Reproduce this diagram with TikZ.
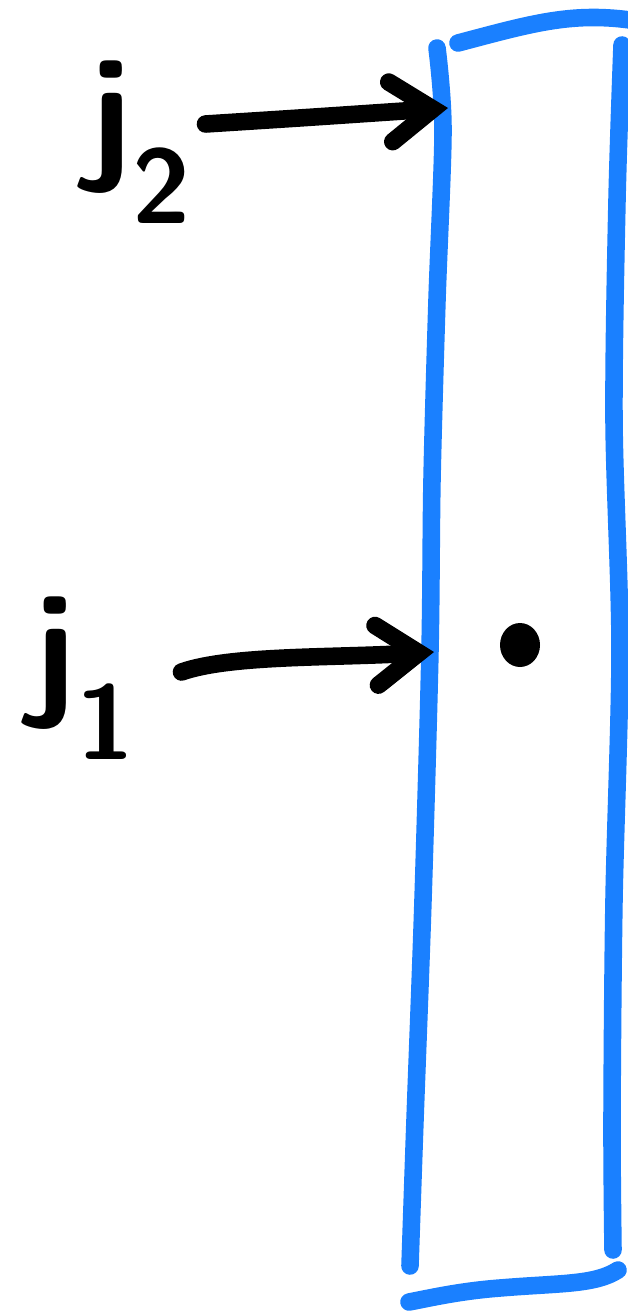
\documentclass[tikz,border=0pt]{standalone}
\usepackage{tikz}
\usepackage{xcolor}
\usetikzlibrary{arrows.meta,shapes.geometric}
\definecolor{boxblue}{HTML}{1A80FF}
\tikzset{
  edge/.style   ={draw=boxblue, line width=10pt, line cap=round, line join=round},
  pointer/.style={draw=black, line width=10pt, line cap=round, line join=round,
                  -{Straight Barb[length=24pt, width=34pt, line cap=round]}},
  jlabel/.style ={font=\fontsize{86}{86}\selectfont\sffamily\bfseries, inner sep=0pt},
}

\begin{document}
\begin{tikzpicture}[x=0.02cm, y=-0.02cm]
  \useasboundingbox (0,0) rectangle (627,1315);

  % the tall box
  \draw[edge] plot[smooth] coordinates
    {(437,48) (443,130) (437,300) (432,480) (430,650) (423,900) (415,1120) (410,1266)};
  \draw[edge] plot[smooth] coordinates
    {(622,45) (617,200) (614,420) (620,650) (614,900) (612,1120) (613,1250)};
  \draw[edge] (458,43) .. controls (530,24) and (570,12) .. (630,20);
  \draw[edge] (618,1270) .. controls (595,1285) and (560,1283) .. (500,1288)
    .. controls (460,1291) and (430,1298) .. (409,1302);

  \coordinate (in2) at (448,108);
  \coordinate (in1) at (434,652);

  % labels
  \node[jlabel] (j2) at (140,142) {j\textsubscript{2}};
  \node[jlabel] (j1) at (84,678) {j\textsubscript{1}};

  \draw[pointer] (j2.east) ++(14,-18) .. controls (300,118) .. (in2);
  \draw[pointer] (j1.east) ++(46,-6) .. controls (230,655) and (330,658) .. (in1);

  % the point
  \node[ellipse, fill=black, minimum width=0.8cm, minimum height=0.88cm, inner sep=0pt]
    (pt) at (520,645) {};
\end{tikzpicture}
\end{document}
